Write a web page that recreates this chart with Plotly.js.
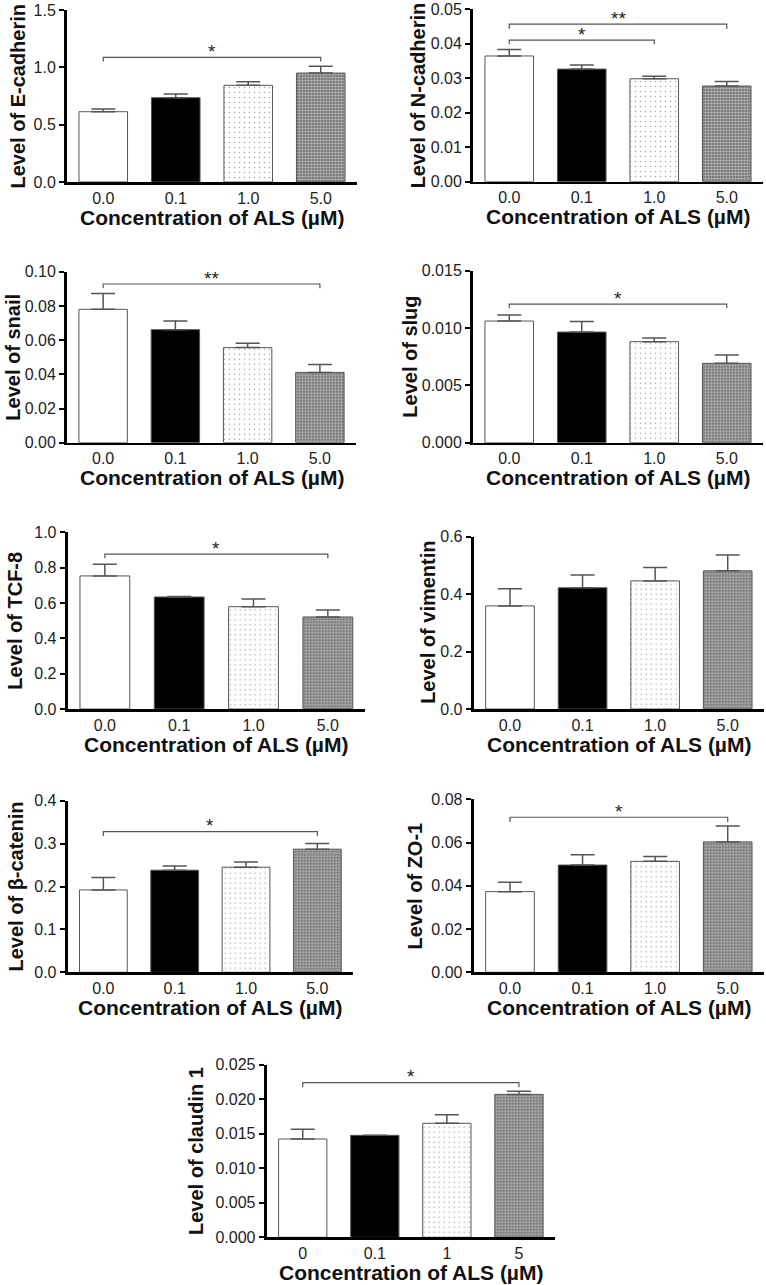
<!DOCTYPE html>
<html>
<head>
<meta charset="utf-8">
<script src="https://cdn.plot.ly/plotly-3.0.1.min.js"></script>
<style>
  html, body { margin: 0; padding: 0; background: #fff; }
  #chart { width: 766px; height: 1285px; }
</style>
</head>
<body>
<div id="chart"></div>
<script>
// Nine bar panels (mean + upward SEM), one per marker, with significance brackets.
const doses = ['0.0', '0.1', '1.0', '5.0'];
const dosesClaudin = ['0', '0.1', '1', '5'];

const eCadherin = [0.613, 0.735, 0.843, 0.950];
const eCadherinSem = [0.023, 0.032, 0.031, 0.059];
const nCadherin = [0.0364, 0.0326, 0.0298, 0.0277];
const nCadherinSem = [0.0019, 0.0012, 0.0007, 0.0013];
const snail = [0.0780, 0.0661, 0.0556, 0.0411];
const snailSem = [0.0093, 0.0050, 0.0025, 0.0047];
const slug = [0.01061, 0.00965, 0.00881, 0.00692];
const slugSem = [0.00052, 0.00093, 0.00032, 0.00073];
const tcf8 = [0.753, 0.634, 0.579, 0.521];
const tcf8Sem = [0.066, 0.002, 0.044, 0.039];
const vimentin = [0.359, 0.422, 0.446, 0.481];
const vimentinSem = [0.060, 0.045, 0.047, 0.055];
const betaCatenin = [0.192, 0.238, 0.245, 0.287];
const betaCateninSem = [0.029, 0.010, 0.012, 0.013];
const zo1 = [0.0373, 0.0496, 0.0513, 0.0603];
const zo1Sem = [0.0043, 0.0048, 0.0023, 0.0074];
const claudin1 = [0.01424, 0.01477, 0.01651, 0.0207];
const claudin1Sem = [0.0014, 0.0, 0.00125, 0.00044];

// significance brackets: [from, to, bar level, leg end, label]
const eCadherinSig = [[0, 3, 1.087, 1.05, '*']];
const nCadherinSig = [[0, 3, 0.0456, 0.0442, '**'], [0, 2, 0.0410, 0.0398, '*']];
const snailSig = [[0, 3, 0.0928, 0.0903, '**']];
const slugSig = [[0, 3, 0.01209, 0.01172, '*']];
const tcf8Sig = [[0, 3, 0.877, 0.853, '*']];
const betaCateninSig = [[0, 3, 0.3278, 0.3177, '*']];
const zo1Sig = [[0, 3, 0.0717, 0.0694, '*']];
const claudin1Sig = [[0, 3, 0.02239, 0.02172, '*']];

const W = 766, H = 1285;
const FONT = 'Liberation Sans, Arial, sans-serif';

// box = [y-axis x, x-axis end, top of y range, y=0] in pixels; titleX = centre of y title
const panels = [
  { label: 'Level of E-cadherin', y: eCadherin, sem: eCadherinSem, sig: eCadherinSig, ticks: doses, max: 1.5, dtick: 0.5, fmt: '.1f', box: [67, 357, 10, 182], titleX: 17.5 },
  { label: 'Level of N-cadherin', y: nCadherin, sem: nCadherinSem, sig: nCadherinSig, ticks: doses, max: 0.05, dtick: 0.01, fmt: '.2f', box: [473, 763, 9, 181.7], titleX: 418 },
  { label: 'Level of snail', y: snail, sem: snailSem, sig: snailSig, ticks: doses, max: 0.10, dtick: 0.02, fmt: '.2f', box: [67, 356, 271.7, 442.7], titleX: 13.5 },
  { label: 'Level of slug', y: slug, sem: slugSem, sig: slugSig, ticks: doses, max: 0.015, dtick: 0.005, fmt: '.3f', box: [473, 763, 270.7, 442.7], titleX: 410 },
  { label: 'Level of TCF-8', y: tcf8, sem: tcf8Sem, sig: tcf8Sig, ticks: doses, max: 1.0, dtick: 0.2, fmt: '.1f', box: [67.7, 365, 532.3, 709], titleX: 15 },
  { label: 'Level of vimentin', y: vimentin, sem: vimentinSem, sig: [], ticks: doses, max: 0.6, dtick: 0.2, fmt: '.1f', box: [473.7, 764, 536.7, 709], titleX: 428 },
  { label: 'Level of β-catenin', y: betaCatenin, sem: betaCateninSem, sig: betaCateninSig, ticks: doses, max: 0.4, dtick: 0.1, fmt: '.1f', box: [67.7, 353, 800.7, 972.3], titleX: 15 },
  { label: 'Level of ZO-1', y: zo1, sem: zo1Sem, sig: zo1Sig, ticks: doses, max: 0.08, dtick: 0.02, fmt: '.2f', box: [473.7, 764, 799.3, 972.3], titleX: 414.7 },
  { label: 'Level of claudin 1', y: claudin1, sem: claudin1Sem, sig: claudin1Sig, ticks: dosesClaudin, max: 0.025, dtick: 0.005, fmt: '.3f', box: [266.7, 555, 1064.7, 1237.3], titleX: 196 }
];

const traces = [];
const layout = {
  width: W, height: H,
  margin: { l: 0, r: 0, t: 0, b: 0 },
  paper_bgcolor: '#fff', plot_bgcolor: '#fff',
  showlegend: false,
  font: { family: FONT, color: '#222' },
  annotations: []
};

panels.forEach((p, i) => {
  const n = i + 1;
  const xa = 'x' + n, ya = 'y' + n;
  const [left, right, top, bottom] = p.box;

  traces.push({
    type: 'bar', x: [0, 1, 2, 3], y: p.y, width: 0.67,
    xaxis: xa, yaxis: ya, hoverinfo: 'skip',
    marker: {
      color: ['#ffffff', '#000000', '#ffffff', '#666666'],
      line: { color: '#555', width: 1 },
      pattern: {
        fillmode: 'overlay',
        shape: ['', '', '.', '.'],
        fgcolor: ['#000', '#000', '#222', '#000'],
        size: [8, 8, 5, 3],
        solidity: [0.1, 0.1, 0.07, 0.6]
      }
    },
    error_y: {
      type: 'data', symmetric: false, array: p.sem, arrayminus: [0, 0, 0, 0],
      color: '#555', thickness: 1.5, width: 12
    }
  });

  p.sig.forEach(([from, to, lvl, leg, stars]) => {
    traces.push({
      type: 'scatter', mode: 'lines', xaxis: xa, yaxis: ya, hoverinfo: 'skip',
      x: [from, from, to, to], y: [leg, lvl, lvl, leg],
      line: { color: '#555', width: 1.2 }
    });
    layout.annotations.push({
      xref: xa, yref: ya, x: (from + to) / 2, y: lvl, text: stars,
      showarrow: false, yanchor: 'middle', yshift: 6,
      font: { family: FONT, size: 19, color: '#222' }
    });
  });

  layout['xaxis' + n] = {
    domain: [left / W, right / W], anchor: ya,
    range: [-0.5, 3.5], tickvals: [0, 1, 2, 3], ticktext: p.ticks,
    showline: true, linecolor: '#000', linewidth: 2.5,
    ticks: '', showgrid: false, zeroline: false, fixedrange: true,
    tickfont: { family: FONT, size: 16, color: '#222' }
  };
  layout['yaxis' + n] = {
    domain: [1 - bottom / H, 1 - top / H], anchor: xa,
    range: [0, p.max], tick0: 0, dtick: p.dtick, tickformat: p.fmt,
    showline: true, linecolor: '#000', linewidth: 3,
    ticks: 'outside', ticklen: 5, tickwidth: 2, tickcolor: '#000',
    showgrid: false, zeroline: false, fixedrange: true,
    tickfont: { family: FONT, size: 16, color: '#222' }
  };

  // axis titles
  layout.annotations.push({
    xref: 'paper', yref: 'paper', x: p.titleX / W, y: 1 - (top + bottom) / 2 / H,
    xanchor: 'center', yanchor: 'middle', textangle: -90, showarrow: false,
    text: '<b>' + p.label + '</b>', font: { family: FONT, size: 20, color: '#111' }
  });
  layout.annotations.push({
    xref: 'paper', yref: 'paper', x: (left + right) / 2 / W, y: 1 - (bottom + 35) / H,
    xanchor: 'center', yanchor: 'middle', showarrow: false,
    text: '<b>Concentration of ALS (µM)</b>', font: { family: FONT, size: 21, color: '#111' }
  });
});

Plotly.newPlot('chart', traces, layout, { staticPlot: true, displayModeBar: false });
</script>
</body>
</html>
